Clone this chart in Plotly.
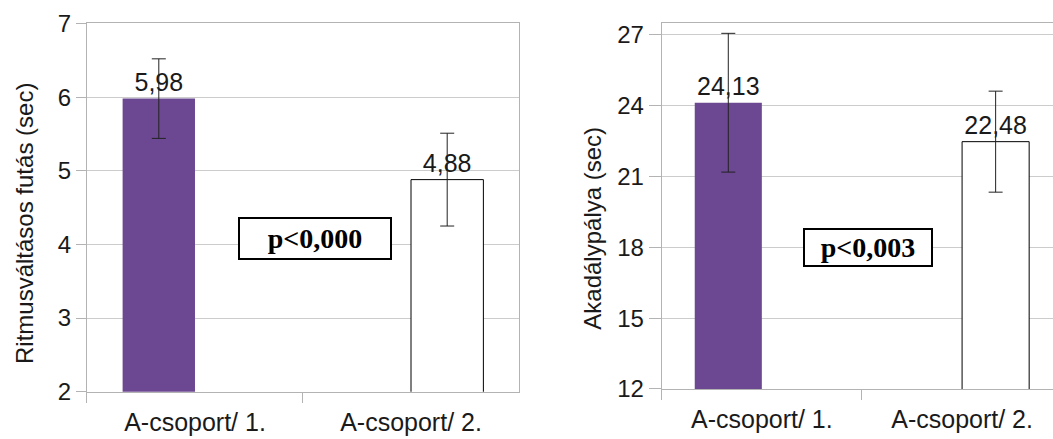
import plotly.graph_objects as go

categories = ["A-csoport/ 1.", "A-csoport/ 2."]

# Left panel: Ritmusváltásos futás (sec)
left_values = [5.98, 4.88]
left_errors = [0.54, 0.63]
left_labels = ["5,98", "4,88"]
left_ticks = [2, 3, 4, 5, 6, 7]
left_p = "p<0,000"

# Right panel: Akadálypálya (sec)
right_values = [24.13, 22.48]
right_errors = [2.94, 2.14]
right_labels = ["24,13", "22,48"]
right_ticks = [12, 15, 18, 21, 24, 27]
right_p = "p<0,003"

PURPLE = "#6b4891"
GRID = "#cccccc"
AXIS = "#b3b3b3"
TXT = "#1a1a1a"
SANS = "Liberation Sans, Arial, sans-serif"
SERIF = "Liberation Serif, Times New Roman, serif"

fig = go.Figure()


def add_panel(values, errors, labels, xa, ya):
    for i, (color, line_w) in enumerate([(PURPLE, 0), ("white", 1)]):
        y = [values[j] if j == i else None for j in range(len(categories))]
        e = [errors[j] if j == i else 0 for j in range(len(categories))]
        t = [labels[j] if j == i else "" for j in range(len(categories))]
        fig.add_trace(go.Bar(
            x=categories, y=y, text=t, textposition="outside",
            textfont=dict(family=SANS, size=25, color=TXT),
            marker=dict(color=color, line=dict(color="black", width=line_w)),
            error_y=dict(type="data", array=e, color="#222222", thickness=1, width=7),
            xaxis=xa, yaxis=ya, showlegend=False, cliponaxis=False,
        ))


add_panel(left_values, left_errors, left_labels, "x", "y")
add_panel(right_values, right_errors, right_labels, "x2", "y2")

xcommon = dict(type="category", showline=True, linecolor=AXIS, linewidth=1,
               ticks="outside", tickson="boundaries", ticklen=10, tickcolor=AXIS,
               tickfont=dict(family=SANS, size=25, color=TXT), showgrid=False,
               automargin=False, ticklabelstandoff=8)
ycommon = dict(showline=True, linecolor=AXIS, linewidth=1, ticks="outside",
               tickcolor=AXIS, showgrid=True, gridcolor=GRID,
               tickfont=dict(family=SANS, size=24, color=TXT), zeroline=False,
               automargin=False)

fig.update_layout(
    width=1053, height=439,
    margin=dict(l=0, r=0, t=0, b=0, autoexpand=False),
    paper_bgcolor="white", plot_bgcolor="white",
    barmode="group", bargap=0.33, bargroupgap=0,
    xaxis=dict(domain=[0.0826, 0.4929], anchor="y", mirror=True, **xcommon),
    yaxis=dict(domain=[0.1077, 0.9465], anchor="x", range=[2, 7], ticklen=10,
               tickvals=left_ticks, mirror=True, **ycommon),
    xaxis2=dict(domain=[0.6284, 1.0], anchor="y2", range=[-0.5, 1.454],
                mirror=True, **xcommon),
    yaxis2=dict(domain=[0.1139, 0.9472], anchor="x2", range=[12, 27.5], ticklen=12,
                tickvals=right_ticks, **ycommon),
    annotations=[
        dict(text="Ritmusváltásos futás (sec)", textangle=-90, xref="paper", yref="paper",
             x=0.0228, y=0.4897, xanchor="center", yanchor="middle", showarrow=False,
             font=dict(family=SANS, size=24, color=TXT)),
        dict(text="Akadálypálya (sec)", textangle=-90, xref="paper", yref="paper",
             x=0.5619, y=0.4806, xanchor="center", yanchor="middle", showarrow=False,
             font=dict(family=SANS, size=24, color=TXT)),
        dict(text="<b>" + left_p + "</b>", xref="paper", yref="paper",
             x=315 / 1053, y=(439 - 238.8) / 439, xanchor="center", yanchor="middle",
             showarrow=False,
             font=dict(family=SERIF, size=28, color="black"),
             bordercolor="black", borderwidth=2, borderpad=0, bgcolor="white",
             width=150, height=39),
        dict(text="<b>" + right_p + "</b>", xref="paper", yref="paper",
             x=868 / 1053, y=(439 - 247.3) / 439, xanchor="center", yanchor="middle",
             showarrow=False,
             font=dict(family=SERIF, size=28, color="black"),
             bordercolor="black", borderwidth=2, borderpad=0, bgcolor="white",
             width=126, height=35),
    ],
)

fig.write_html("out.html")
